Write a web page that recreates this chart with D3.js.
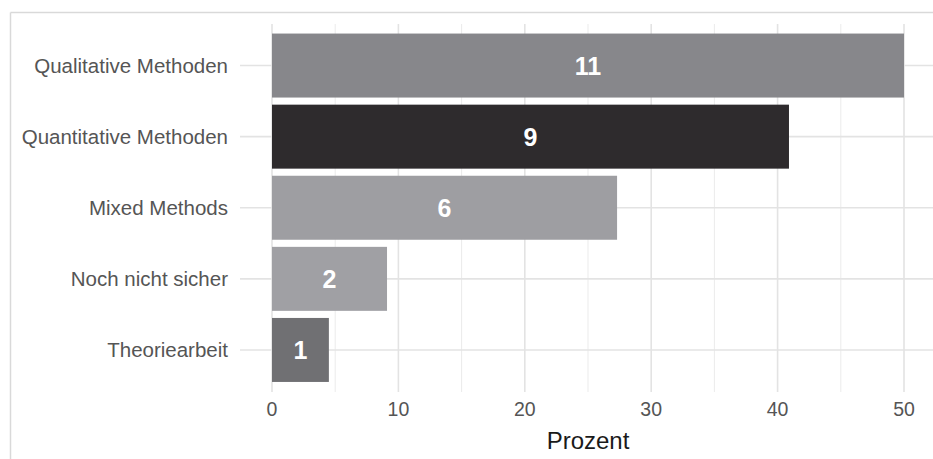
<!DOCTYPE html>
<html>
<head>
<meta charset="utf-8">
<style>
  body { margin: 0; background: #fff; }
  svg text { font-family: "Liberation Sans", Arial, sans-serif; }
</style>
</head>
<body>
<div id="chart"></div>
<script src="https://d3js.org/d3.v7.min.js"></script>
<script>
const categories = ["Qualitative Methoden", "Quantitative Methoden", "Mixed Methods", "Noch nicht sicher", "Theoriearbeit"];
const counts = [11, 9, 6, 2, 1];
// share of respondents (n = 22)
const percents = [50, 40.9, 27.3, 9.1, 4.5];
const colors = ["#87878b", "#2e2b2d", "#9e9ea2", "#a0a0a4", "#707073"];
const xTicks = [0, 10, 20, 30, 40, 50];

const width = 933, height = 459;
const svg = d3.select("#chart").append("svg")
  .attr("width", width).attr("height", height);

// outer frame (only top/left visible in crop)
svg.append("line").attr("x1", 10.5).attr("x2", width).attr("y1", 12.5).attr("y2", 12.5)
  .attr("stroke", "#d9d9d9").attr("stroke-width", 1.5);
svg.append("line").attr("x1", 10.5).attr("x2", 10.5).attr("y1", 12.5).attr("y2", height)
  .attr("stroke", "#d9d9d9").attr("stroke-width", 1.5);

const panel = {top: 24, bottom: 392, left: 240, right: 936};
const x = d3.scaleLinear().domain([0, 50]).range([272, 904]);
const y = d3.scaleBand().domain(categories).range([30, 385.5]).paddingInner(0.1).paddingOuter(0.05);

// grid
const minor = d3.range(5, 50, 10);
svg.append("g").selectAll("line").data(minor).join("line")
  .attr("x1", d => x(d)).attr("x2", d => x(d))
  .attr("y1", panel.top).attr("y2", panel.bottom)
  .attr("stroke", "#ebebeb").attr("stroke-width", 1);
svg.append("g").selectAll("line").data(xTicks).join("line")
  .attr("x1", d => x(d)).attr("x2", d => x(d))
  .attr("y1", panel.top).attr("y2", panel.bottom)
  .attr("stroke", "#e3e3e3").attr("stroke-width", 1.6);
svg.append("g").selectAll("line").data(categories).join("line")
  .attr("x1", panel.left).attr("x2", panel.right)
  .attr("y1", d => y(d) + y.bandwidth() / 2).attr("y2", d => y(d) + y.bandwidth() / 2)
  .attr("stroke", "#e3e3e3").attr("stroke-width", 1.6);

// bars
svg.append("g").selectAll("rect").data(categories).join("rect")
  .attr("x", x(0))
  .attr("y", d => y(d))
  .attr("width", (d, i) => x(percents[i]) - x(0))
  .attr("height", y.bandwidth())
  .attr("fill", (d, i) => colors[i]);

// bar labels
svg.append("g").selectAll("text").data(categories).join("text")
  .attr("x", (d, i) => x(percents[i] / 2))
  .attr("y", d => y(d) + y.bandwidth() / 2)
  .attr("dy", "0.36em")
  .attr("text-anchor", "middle")
  .attr("fill", "#fff")
  .style("font-size", "25px")
  .style("font-weight", "bold")
  .text((d, i) => counts[i]);

// y labels
svg.append("g").selectAll("text").data(categories).join("text")
  .attr("x", 228)
  .attr("y", d => y(d) + y.bandwidth() / 2)
  .attr("dy", "0.36em")
  .attr("text-anchor", "end")
  .attr("fill", "#555")
  .style("font-size", "20.5px")
  .text(d => d);

// x ticks
svg.append("g").selectAll("text").data(xTicks).join("text")
  .attr("x", d => x(d))
  .attr("y", 409)
  .attr("dy", "0.36em")
  .attr("text-anchor", "middle")
  .attr("fill", "#555")
  .style("font-size", "19.5px")
  .text(d => d);

svg.append("text")
  .attr("x", 588).attr("y", 440)
  .attr("dy", "0.36em")
  .attr("text-anchor", "middle")
  .attr("fill", "#1a1a1a")
  .style("font-size", "24px")
  .text("Prozent");
</script>
</body>
</html>
